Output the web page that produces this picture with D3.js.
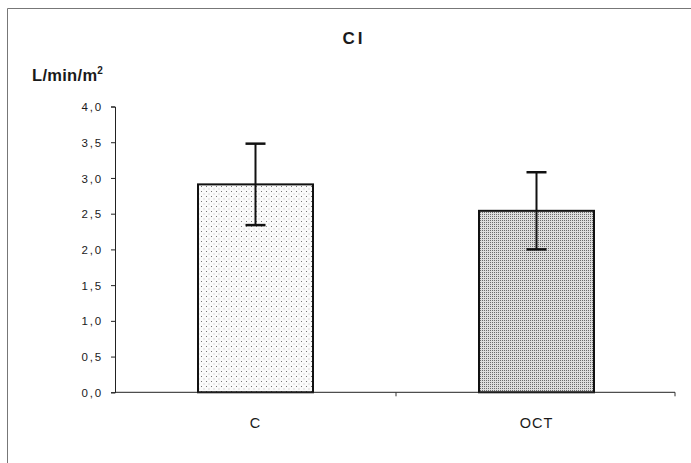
<!DOCTYPE html>
<html>
<head>
<meta charset="utf-8">
<script src="https://cdn.jsdelivr.net/npm/d3@7"></script>
<style>
  html, body { margin: 0; padding: 0; background: #fff; }
  svg { display: block; }
  text { font-family: "Liberation Sans", Arial, sans-serif; fill: #1a1a1a; }
</style>
</head>
<body>
<svg id="chart" width="691" height="463"></svg>
<script>
// Cardiac index by group
const groups = ["C", "OCT"];
const means = [2.91, 2.54];
const sds = [0.57, 0.54];
const yTicks = [0, 0.5, 1, 1.5, 2, 2.5, 3, 3.5, 4];
const title = "CI";
const unitLabel = "L/min/m";

const svg = d3.select("#chart");
const W = 691, H = 463;
const plot = { left: 115, right: 677, top: 106.5, bottom: 392.3 };

// Dotted fills
const defs = svg.append("defs");
const pLight = defs.append("pattern").attr("id", "dotsLight")
  .attr("patternUnits", "userSpaceOnUse").attr("width", 5).attr("height", 5);
pLight.append("rect").attr("width", 5).attr("height", 5).attr("fill", "#fbfbfb");
pLight.append("rect").attr("x", 1).attr("y", 1).attr("width", 1).attr("height", 1).attr("fill", "#777");
pLight.append("rect").attr("x", 3.5).attr("y", 3.5).attr("width", 1).attr("height", 1).attr("fill", "#bbb");

const pDense = defs.append("pattern").attr("id", "dotsDense")
  .attr("patternUnits", "userSpaceOnUse").attr("width", 2).attr("height", 2);
pDense.append("rect").attr("width", 2).attr("height", 2).attr("fill", "#dcdcdc");
pDense.append("rect").attr("x", 0).attr("y", 0).attr("width", 1).attr("height", 1).attr("fill", "#6a6a6a");

const fills = ["url(#dotsLight)", "url(#dotsDense)"];

// Outer frame (top and left edges)
svg.append("path")
  .attr("d", `M7.5,${H} V8.5 H${W}`)
  .attr("fill", "none").attr("stroke", "#777").attr("stroke-width", 1);

const x = d3.scaleBand().domain(groups).range([plot.left, plot.right]).padding(0);
const y = d3.scaleLinear().domain([0, 4]).range([plot.bottom, plot.top]);
const barW = 115;

// Y axis
const yAxis = svg.append("g")
  .attr("transform", `translate(${plot.left},0)`)
  .call(d3.axisLeft(y).tickValues(yTicks).tickSize(4).tickPadding(8)
    .tickFormat(d => d3.format(".1f")(d).replace(".", ",")));
yAxis.select(".domain").attr("stroke", "#222").attr("stroke-width", 1);
yAxis.selectAll(".tick line").attr("stroke", "#222");
yAxis.selectAll(".tick text")
  .style("font-size", "11.5px").style("letter-spacing", "1.8px")
  .attr("fill", "#222").attr("dy", "0.36em");

// Bars
svg.append("g").selectAll("rect").data(groups).join("rect")
  .attr("x", d => x(d) + (x.bandwidth() - barW) / 2)
  .attr("y", (d, i) => y(means[i]))
  .attr("width", barW)
  .attr("height", (d, i) => y(0) - y(means[i]))
  .attr("fill", (d, i) => fills[i])
  .attr("stroke", "#111").attr("stroke-width", 2);

// Error bars
const err = svg.append("g").attr("stroke", "#111");
groups.forEach((g, i) => {
  const cx = x(g) + x.bandwidth() / 2;
  err.append("line").attr("x1", cx).attr("x2", cx)
    .attr("y1", y(means[i] - sds[i])).attr("y2", y(means[i] + sds[i]))
    .attr("stroke-width", 2);
  [means[i] - sds[i], means[i] + sds[i]].forEach(v => {
    err.append("line").attr("x1", cx - 10).attr("x2", cx + 10)
      .attr("y1", y(v)).attr("y2", y(v)).attr("stroke-width", 2.5);
  });
});

// X axis line with ticks at category boundaries
const xAxis = svg.append("g").attr("transform", `translate(0,${plot.bottom})`);
xAxis.append("line").attr("x1", plot.left).attr("x2", plot.right - 2)
  .attr("stroke", "#222").attr("stroke-width", 1);
const bounds = groups.slice(1).map(g => x(g)).concat([plot.right - 2]);
xAxis.selectAll("line.tk").data(bounds).join("line").attr("class", "tk")
  .attr("x1", d => d).attr("x2", d => d).attr("y1", 0).attr("y2", 4)
  .attr("stroke", "#333");
xAxis.selectAll("text").data(groups).join("text")
  .attr("x", d => x(d) + x.bandwidth() / 2)
  .attr("y", 36)
  .attr("text-anchor", "middle")
  .style("font-size", "14.5px").style("letter-spacing", "1px")
  .text(d => d);

// Title
svg.append("text").attr("x", 354).attr("y", 44).attr("text-anchor", "middle")
  .style("font-size", "17px").style("font-weight", "bold").style("letter-spacing", "3px")
  .text(title);

// Unit label
const ul = svg.append("text").attr("x", 32).attr("y", 81)
  .style("font-size", "16.5px").style("font-weight", "bold").style("letter-spacing", "0.3px");
ul.append("tspan").text(unitLabel);
ul.append("tspan").attr("dy", -7).style("font-size", "10px").text("2");
</script>
</body>
</html>
